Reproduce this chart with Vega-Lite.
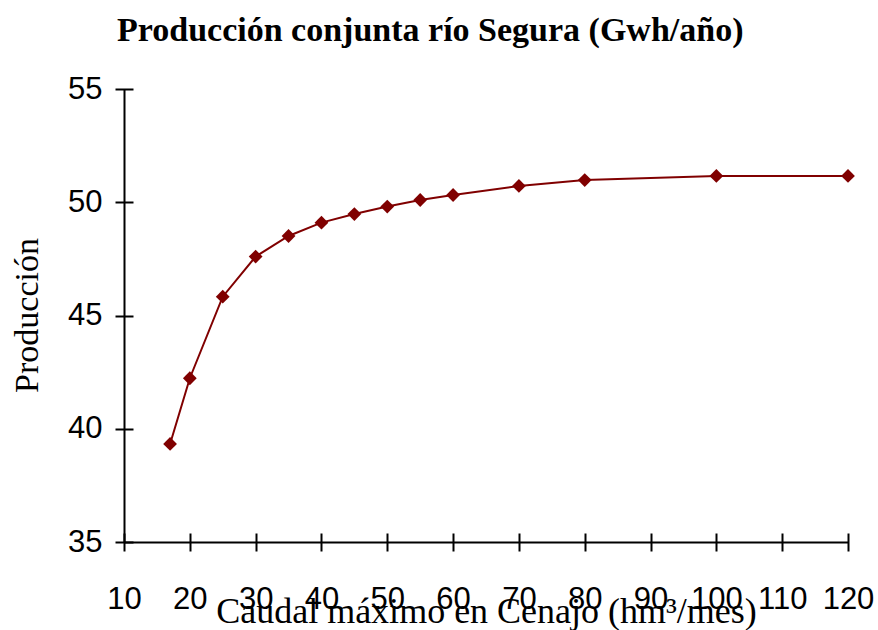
{
  "$schema": "https://vega.github.io/schema/vega-lite/v6.json",
  "width": 724,
  "height": 453,
  "autosize": {"type": "none"},
  "padding": {"left": 124, "top": 89, "right": 30, "bottom": 88},
  "background": "white",
  "config": {"view": {"stroke": null}},
  "title": {
    "text": "Producción conjunta río Segura (Gwh/año)",
    "font": "Liberation Serif",
    "fontWeight": "bold",
    "fontSize": 34,
    "color": "black",
    "anchor": "start",
    "frame": "group",
    "dx": -7,
    "baseline": "alphabetic",
    "offset": -2
  },
  "data": {
    "values": [
      {"caudal": 17, "produccion": 39.33},
      {"caudal": 20, "produccion": 42.23},
      {"caudal": 25, "produccion": 45.83},
      {"caudal": 30, "produccion": 47.6},
      {"caudal": 35, "produccion": 48.51},
      {"caudal": 40, "produccion": 49.1},
      {"caudal": 45, "produccion": 49.48},
      {"caudal": 50, "produccion": 49.81},
      {"caudal": 55, "produccion": 50.1},
      {"caudal": 60, "produccion": 50.32},
      {"caudal": 70, "produccion": 50.72},
      {"caudal": 80, "produccion": 50.98},
      {"caudal": 100, "produccion": 51.16},
      {"caudal": 120, "produccion": 51.16}
    ]
  },
  "resolve": {"axis": {"x": "independent", "y": "independent"}},
  "layer": [
    {
      "mark": {"type": "line", "color": "#800000", "strokeWidth": 2},
      "encoding": {
        "x": {
          "field": "caudal", "type": "quantitative",
          "scale": {"domain": [10, 120], "nice": false, "zero": false},
          "axis": {
            "orient": "bottom",
            "values": [10, 20, 30, 40, 50, 60, 70, 80, 90, 100, 110, 120],
            "grid": false,
            "ticks": false,
            "tickSize": 0,
            "domainColor": "black",
            "domainWidth": 2,
            "labelFont": "Liberation Sans",
            "labelFontSize": 31,
            "labelColor": "black",
            "labelPadding": 42,
            "labelFlush": false,
            "labelOverlap": false,
            "title": "Caudal máximo en Cenajo (hm³/mes)",
            "titleFont": "Liberation Serif",
            "titleFontSize": 36,
            "titleFontWeight": "normal",
            "titleColor": "black",
            "titleBaseline": "alphabetic",
            "titleY": 80
          }
        },
        "y": {
          "field": "produccion", "type": "quantitative",
          "scale": {"domain": [35, 55], "nice": false, "zero": false},
          "axis": {
            "orient": "left",
            "values": [35, 40, 45, 50, 55],
            "grid": false,
            "ticks": false,
            "tickSize": 0,
            "domainColor": "black",
            "domainWidth": 2,
            "labelFont": "Liberation Sans",
            "labelFontSize": 31,
            "labelColor": "black",
            "labelPadding": 22,
            "labelFlush": false,
            "labelOverlap": false,
            "title": "Producción",
            "titleFont": "Liberation Serif",
            "titleFontSize": 34,
            "titleFontWeight": "normal",
            "titleColor": "black",
            "titleBaseline": "alphabetic",
            "titleX": -87,
            "titleY": 226
          }
        }
      }
    },
    {
      "mark": {"type": "point", "shape": "diamond", "filled": true, "color": "#800000", "opacity": 1, "size": 190},
      "encoding": {
        "x": {
          "field": "caudal", "type": "quantitative",
          "axis": {
            "orient": "bottom",
            "values": [10, 20, 30, 40, 50, 60, 70, 80, 90, 100, 110, 120],
            "offset": -9,
            "tickSize": 18,
            "tickWidth": 2,
            "tickColor": "black",
            "domain": false,
            "labels": false,
            "grid": false,
            "title": null
          }
        },
        "y": {
          "field": "produccion", "type": "quantitative",
          "axis": {
            "orient": "left",
            "values": [35, 40, 45, 50, 55],
            "offset": -9,
            "tickSize": 18,
            "tickWidth": 2,
            "tickColor": "black",
            "domain": false,
            "labels": false,
            "grid": false,
            "title": null
          }
        }
      }
    }
  ]
}
